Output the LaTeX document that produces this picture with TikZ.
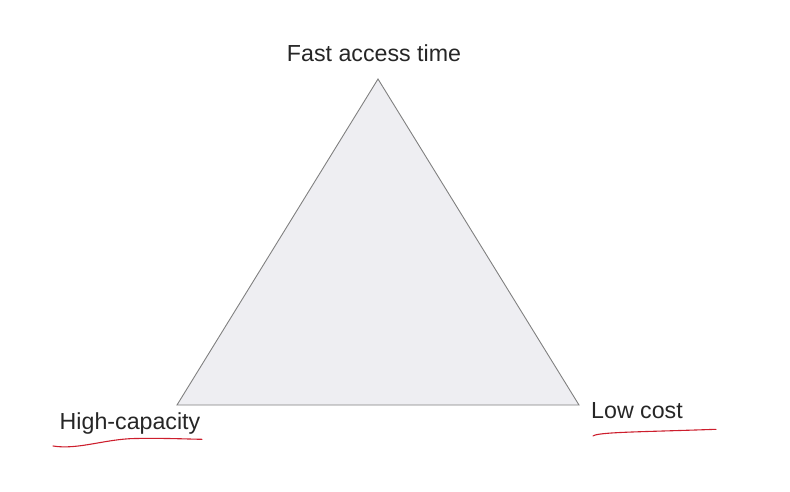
\documentclass[tikz,border=0pt]{standalone}
\usepackage{fontspec}
\setmainfont{Liberation Sans}
\usepackage{tikz}
\usetikzlibrary{positioning}

\begin{document}
\begin{tikzpicture}[x=1pt,y=-1pt,cap=round]
  % Colors
  \definecolor{trifill}{RGB}{238,238,242}
  \definecolor{triline}{RGB}{128,128,128}
  \definecolor{inkcolor}{RGB}{205,30,45}
  \colorlet{labelcolor}{black!85}

  % Styles
  \tikzstyle{triangle}=[draw=triline,fill=trifill,line width=0.9pt,line join=miter]
  \tikzstyle{corner text}=[anchor=base,inner sep=0pt,text=labelcolor,font=\fontsize{23.2}{27}\selectfont]
  \tikzstyle{ink}=[draw=inkcolor,line width=1.1pt]

  % Frame
  \useasboundingbox (0,0) rectangle (790,491);

  % The graphic
  \coordinate (top) at (378,79);
  \coordinate (left) at (177,405);
  \coordinate (right) at (579,405);
  \draw[triangle] (top) -- (left) -- (right) -- cycle;

  \node[corner text] (fast) at (374,61) {Fast access time};
  \node[corner text] (capacity) at (130,429) {High-capacity};
  \node[corner text] (cost) at (637,418) {Low cost};

  % hand-drawn underlines
  \draw[ink] (53,446) .. controls (78,450) and (105,439) .. (135,438.5)
    .. controls (165,438) and (185,439) .. (202,439.3);
  \draw[ink] (593,436) .. controls (598,432) and (640,432) .. (716,429.3);

\end{tikzpicture}
\end{document}
